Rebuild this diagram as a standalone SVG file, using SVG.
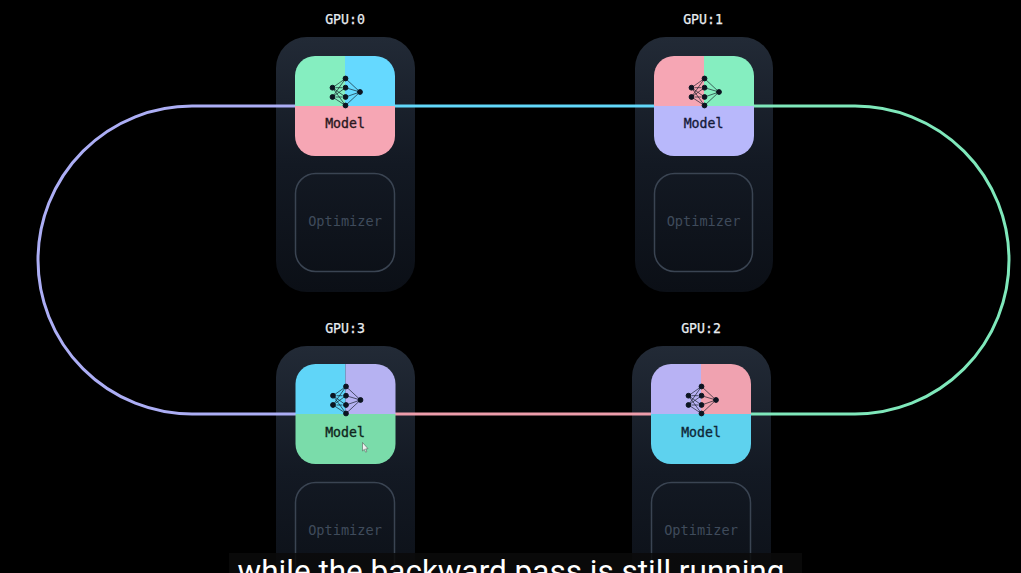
<svg xmlns="http://www.w3.org/2000/svg" xmlns:xlink="http://www.w3.org/1999/xlink" width="1021" height="573" viewBox="0 0 1021 573">
<style>
.mono{font-family:"DejaVu Sans Mono","Liberation Mono",monospace;text-anchor:middle}
.gpu{fill:#e8ecf0;font-size:13.2px;stroke:#e8ecf0;stroke-width:.25}
.model{font-size:13.2px;stroke-width:.35}
.opt{fill:#3f4b5b;font-size:13.6px}
.card{fill:url(#cardFill)}
.optbox{fill:none;stroke:#3a4452;stroke-width:1.5}
.pipe{fill:none;stroke-width:3}
</style>
<defs>
<linearGradient id="cardFill" x1="0" y1="0" x2="0" y2="1"><stop offset="0" stop-color="#222a36"/><stop offset=".5" stop-color="#131923"/><stop offset="1" stop-color="#0b0f16"/></linearGradient>
<g id="netlines">
<path d="M37.5 31.7L50.5 22.5M41 31.700L47 31.700M37.500 31.700L50.500 41M37.500 31.700L50.500 49.500M37.500 41L50.500 22.500M37.500 41L50.500 31.700M41 41L47 41M37.500 41L50.500 49.500M50.500 22.500L65 36M50.500 31.700L65 36M50.500 41L65 36M50.500 49.500L65 36" fill="none" stroke-width=".8" stroke-opacity=".8"/>
<circle cx="37.5" cy="31.7" r="2.4"/><circle cx="37.5" cy="41" r="2.4"/><circle cx="50.5" cy="22.5" r="2.4"/><circle cx="50.5" cy="31.7" r="2.4"/><circle cx="50.5" cy="41" r="2.4"/><circle cx="50.5" cy="49.5" r="2.4"/><circle cx="65" cy="36" r="2.4"/>
</g>
<path id="tl" d="M0 50V20A20 20 0 0 1 20 0H50V50Z"/>
<path id="tr" d="M50 0H80A20 20 0 0 1 100 20V50H50Z"/>
<path id="bot" d="M0 50H100V80A20 20 0 0 1 80 100H20A20 20 0 0 1 0 80Z"/>
</defs>
<rect width="1021" height="573" fill="#000"/>
<g id="card-0"><rect class="card" x="276" y="37" width="139" height="255" rx="31"/></g>
<g id="card-1"><rect class="card" x="635" y="37" width="138" height="255" rx="31"/></g>
<g id="card-3"><rect class="card" x="276" y="346" width="139" height="255" rx="31"/></g>
<g id="card-2"><rect class="card" x="632" y="346" width="139" height="255" rx="31"/></g>
<g id="connectors">
<path class="pipe" stroke="#acaef5" d="M296 106H192A154 154 0 0 0 38 260A154 154 0 0 0 192 414H296"/>
<path class="pipe" stroke="#62d8fa" d="M394 106H655"/>
<path class="pipe" stroke="#7fe8bb" d="M752 106H855A154 154 0 0 1 1009 260A154 154 0 0 1 855 414H750"/>
<path class="pipe" stroke="#ee9dab" d="M394 414H652"/>
</g>
<g id="gpu-0">
<text class="mono gpu" x="345" y="24">GPU:0</text>
<g transform="translate(295 56)"><use xlink:href="#tl" fill="#85eec0"/><use xlink:href="#tr" fill="#65d9ff"/><use xlink:href="#bot" fill="#f6a6b4"/><use xlink:href="#netlines" fill="#0c1420" stroke="#0c1420"/></g>
<text class="mono model" x="345" y="128" fill="#2a1820" stroke="#2a1820">Model</text>
<rect class="optbox" x="295.500" y="173.500" width="99" height="98" rx="20"/>
<text class="mono opt" x="345" y="226">Optimizer</text>
</g>
<g id="gpu-1">
<text class="mono gpu" x="703" y="24">GPU:1</text>
<g transform="translate(654 56)"><use xlink:href="#tl" fill="#f6a6b4"/><use xlink:href="#tr" fill="#85eec0"/><use xlink:href="#bot" fill="#b8b8fb"/><use xlink:href="#netlines" fill="#0c1420" stroke="#0c1420"/></g>
<text class="mono model" x="703.500" y="128" fill="#141a3a" stroke="#141a3a">Model</text>
<rect class="optbox" x="654.500" y="173.500" width="98" height="98" rx="20"/>
<text class="mono opt" x="703.500" y="226">Optimizer</text>
</g>
<g id="gpu-3">
<text class="mono gpu" x="345" y="333">GPU:3</text>
<g transform="translate(295.500 364)"><use xlink:href="#tl" fill="#60d5f8"/><use xlink:href="#tr" fill="#b6b2f2"/><use xlink:href="#bot" fill="#7adcaa"/><use xlink:href="#netlines" fill="#0c1420" stroke="#0c1420"/></g>
<text class="mono model" x="345" y="437" fill="#10261c" stroke="#10261c">Model</text>
<path d="M362.500 442.500V451L364.300 449.300L365.600 452.200L366.800 451.700L365.600 448.900L368 448.700Z" fill="#f2f2f2" stroke="#444" stroke-width=".5"/>
<rect class="optbox" x="295.500" y="482.500" width="99" height="120" rx="20"/>
<text class="mono opt" x="345" y="535">Optimizer</text>
</g>
<g id="gpu-2">
<text class="mono gpu" x="701" y="333">GPU:2</text>
<g transform="translate(651 364)"><use xlink:href="#tl" fill="#b8b2f4"/><use xlink:href="#tr" fill="#f0a2b0"/><use xlink:href="#bot" fill="#5ed2ee"/><use xlink:href="#netlines" fill="#0c1420" stroke="#0c1420"/></g>
<text class="mono model" x="701" y="437" fill="#0e2838" stroke="#0e2838">Model</text>
<rect class="optbox" x="651.500" y="482.500" width="99" height="120" rx="20"/>
<text class="mono opt" x="701" y="535">Optimizer</text>
</g>
<g id="caption">
<rect x="229" y="553" width="573" height="20" fill="#0a0a0a" fill-opacity=".85"/>
<text x="511" y="582" font-family="Roboto,'Liberation Sans',sans-serif" font-size="31.500" fill="#fff" text-anchor="middle">while the backward pass is still running</text>
</g>
</svg>
